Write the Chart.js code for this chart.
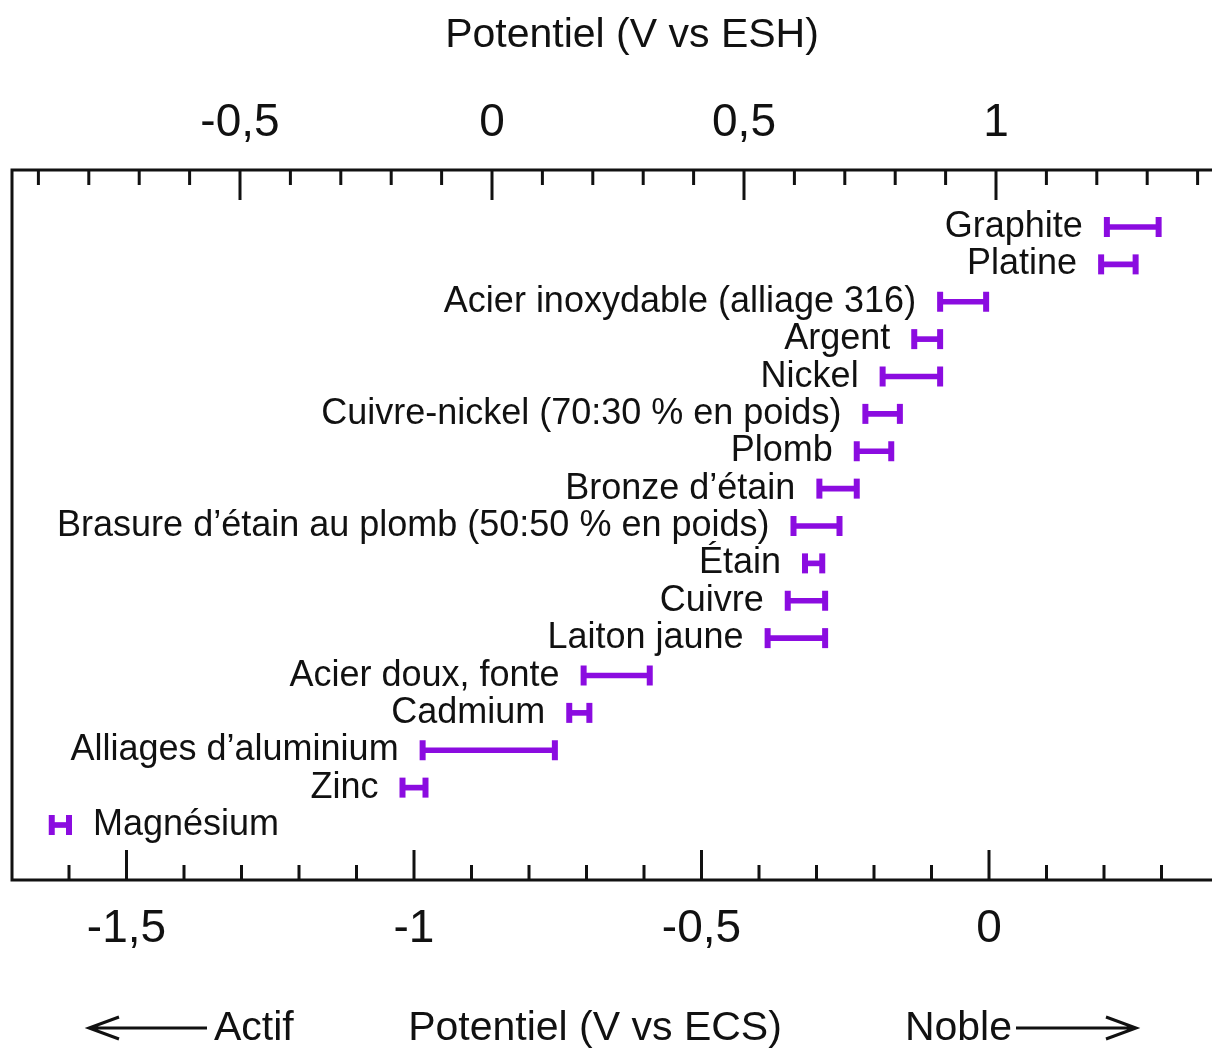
<!DOCTYPE html>
<html>
<head>
<meta charset="utf-8">
<script src="https://cdn.jsdelivr.net/npm/chart.js@4.4.1/dist/chart.umd.min.js"></script>
<style>
  html, body { margin: 0; padding: 0; background: #fff; overflow: hidden; }
  #wrap { width: 1252px; height: 1049px; }
</style>
</head>
<body>
<div id="wrap"><canvas id="myChart" width="1252" height="1049"></canvas></div>
<script>
// materials, top to bottom
var materials = ['Graphite', 'Platine', 'Acier inoxydable (alliage 316)', 'Argent', 'Nickel',
  'Cuivre-nickel (70:30 % en poids)', 'Plomb', 'Bronze d\u2019\u00e9tain',
  'Brasure d\u2019\u00e9tain au plomb (50:50 % en poids)', '\u00c9tain', 'Cuivre', 'Laiton jaune',
  'Acier doux, fonte', 'Cadmium', 'Alliages d\u2019aluminium', 'Zinc', 'Magn\u00e9sium'];
// potential range, V vs ECS
var lowECS  = [0.205, 0.195, -0.085, -0.13, -0.185, -0.215, -0.23, -0.295, -0.34, -0.32, -0.35, -0.385, -0.705, -0.73, -0.985, -1.02, -1.63];
var highECS = [0.295, 0.255, -0.005, -0.085, -0.085, -0.155, -0.17, -0.23, -0.26, -0.29, -0.285, -0.285, -0.59, -0.695, -0.755, -0.98, -1.6];
// labelled ticks
var ecsTicks = [-1.5, -1, -0.5, 0];
var eshTicks = [-0.5, 0, 0.5, 1];

var purple = '#8b0ce0';
var ink = '#111';
var font = '"Liberation Sans", Arial, Helvetica, sans-serif';

function fr(v){
  return String(Math.round(v*10)/10).replace('.', ',');
}

var barData = materials.map(function(m, i){ return {x: [lowECS[i], highECS[i]], y: i}; });
var capData = [];
materials.forEach(function(m, i){
  capData.push({x: lowECS[i], y: i});
  capData.push({x: highECS[i], y: i});
});

var decor = {
  id: 'decor',
  afterDatasetsDraw: function(chart){
    var ctx = chart.ctx, a = chart.chartArea;
    var sx = chart.scales.x, st = chart.scales.xTop, sy = chart.scales.y;
    ctx.save();
    ctx.strokeStyle = ink;
    ctx.lineWidth = 3;
    ctx.beginPath();
    ctx.moveTo(chart.width, a.top); ctx.lineTo(a.left, a.top);
    ctx.lineTo(a.left, a.bottom); ctx.lineTo(chart.width, a.bottom);
    ctx.stroke();

    // inward ticks
    var v, px, major;
    for (v = -0.9; v <= 1.45; v += 0.1){
      px = st.getPixelForValue(v);
      major = Math.abs(v*2 - Math.round(v*2)) < 1e-6;
      ctx.beginPath(); ctx.moveTo(px, a.top); ctx.lineTo(px, a.top + (major ? 30 : 15)); ctx.stroke();
    }
    for (v = -1.6; v <= 0.45; v += 0.1){
      px = sx.getPixelForValue(v);
      major = Math.abs(v*2 - Math.round(v*2)) < 1e-6;
      ctx.beginPath(); ctx.moveTo(px, a.bottom); ctx.lineTo(px, a.bottom - (major ? 30 : 15)); ctx.stroke();
    }

    // material labels
    ctx.fillStyle = ink;
    ctx.font = '36px ' + font;
    ctx.textBaseline = 'alphabetic';
    materials.forEach(function(m, i){
      var y = sy.getPixelForValue(i) + 10;
      var xl = sx.getPixelForValue(lowECS[i]) - 24;
      var w = ctx.measureText(m).width;
      if (xl - w < a.left + 10){
        ctx.textAlign = 'left';
        ctx.fillText(m, sx.getPixelForValue(highECS[i]) + 24, y);
      } else {
        ctx.textAlign = 'right';
        ctx.fillText(m, xl, y);
      }
    });

    // axis titles
    ctx.font = '41px ' + font;
    ctx.textAlign = 'center';
    ctx.fillText('Potentiel (V vs ESH)', 632, 47);
    ctx.fillText('Potentiel (V vs ECS)', 595, 1040);
    ctx.textAlign = 'left';
    ctx.fillText('Actif', 214, 1040);
    ctx.textAlign = 'right';
    ctx.fillText('Noble', 1012, 1040);

    // arrows
    ctx.lineWidth = 3;
    ctx.beginPath();
    ctx.moveTo(207, 1028); ctx.lineTo(89, 1028);
    ctx.moveTo(119, 1017); ctx.lineTo(89, 1028); ctx.lineTo(119, 1039);
    ctx.moveTo(1016, 1028); ctx.lineTo(1136, 1028);
    ctx.moveTo(1106, 1017); ctx.lineTo(1136, 1028); ctx.lineTo(1106, 1039);
    ctx.stroke();
    ctx.restore();
  }
};

function noPad(s, h){
  s.height = h;
  s.paddingLeft = 0; s.paddingRight = 0;
  s.paddingTop = 0; s.paddingBottom = 0;
}

var ctx = document.getElementById('myChart').getContext('2d');
var myChart = new Chart(ctx, {
  type: 'scatter',
  data: {
    datasets: [{
      type: 'bar',
      indexAxis: 'y',
      data: barData,
      backgroundColor: purple,
      borderWidth: 0,
      barThickness: 5,
      xAxisID: 'x',
      yAxisID: 'y'
    }, {
      type: 'scatter',
      data: capData,
      pointStyle: 'line',
      rotation: 90,
      radius: 10,
      borderWidth: 6,
      borderColor: purple,
      backgroundColor: purple,
      xAxisID: 'x',
      yAxisID: 'y'
    }]
  },
  options: {
    responsive: false,
    animation: false,
    layout: { autoPadding: false, padding: { left: 12, right: 12, top: 0, bottom: 0 } },
    plugins: { legend: { display: false }, tooltip: { enabled: false } },
    scales: {
      x: {
        type: 'linear', position: 'bottom', offset: false, beginAtZero: false,
        min: (12 - 989) / 575, max: (1240 - 989) / 575,
        grid: { display: false, drawTicks: false },
        border: { display: false },
        afterBuildTicks: function(s){ s.ticks = ecsTicks.map(function(v){ return {value: v}; }); },
        afterFit: function(s){ noPad(s, 169); },
        ticks: {
          autoSkip: false, maxRotation: 0, padding: 22, color: ink,
          font: { family: font, size: 46 },
          callback: function(v){ return fr(v); }
        }
      },
      xTop: {
        type: 'linear', position: 'top', axis: 'x', offset: false,
        min: (12 - 492) / 504, max: (1240 - 492) / 504,
        grid: { display: false, drawTicks: false },
        border: { display: false },
        afterBuildTicks: function(s){ s.ticks = eshTicks.map(function(v){ return {value: v}; }); },
        afterFit: function(s){ noPad(s, 170); },
        ticks: {
          autoSkip: false, maxRotation: 0, padding: 19, color: ink,
          font: { family: font, size: 46 },
          callback: function(v){ return fr(v); }
        }
      },
      y: {
        type: 'linear', display: false, reverse: true, offset: false,
        min: (170 - 227) / 37.375, max: (880 - 227) / 37.375
      }
    }
  },
  plugins: [decor]
});
</script>
</body>
</html>
